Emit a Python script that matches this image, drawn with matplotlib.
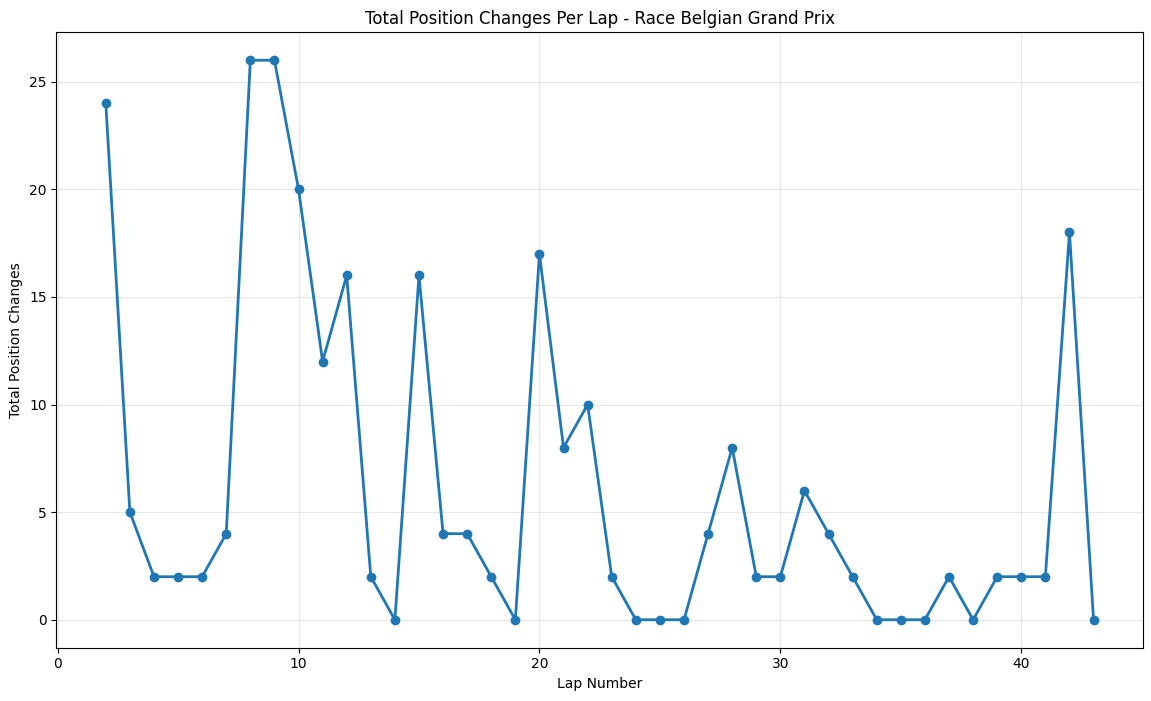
import matplotlib
matplotlib.use("Agg")
import matplotlib.pyplot as plt

laps = list(range(2, 44))
changes = [24, 5, 2, 2, 2, 4, 26, 26, 20, 12, 16, 2, 0, 16, 4, 4, 2, 0, 17, 8, 10, 2,
           0, 0, 0, 4, 8, 2, 2, 6, 4, 2, 0, 0, 0, 2, 0, 2, 2, 2, 18, 0]

fig, ax = plt.subplots(figsize=(11.51, 7.01), dpi=100)
fig.subplots_adjust(left=0.049, right=0.993, top=0.954, bottom=0.076)
ax.plot(laps, changes, marker='o', linewidth=2, markersize=6, color='#1f77b4')
ax.set_title('Total Position Changes Per Lap - Race Belgian Grand Prix')
ax.set_xlabel('Lap Number')
ax.set_ylabel('Total Position Changes')
ax.grid(True, alpha=0.3)
ax.set_xticks([0, 10, 20, 30, 40])
fig.savefig('out.png', dpi=100)
